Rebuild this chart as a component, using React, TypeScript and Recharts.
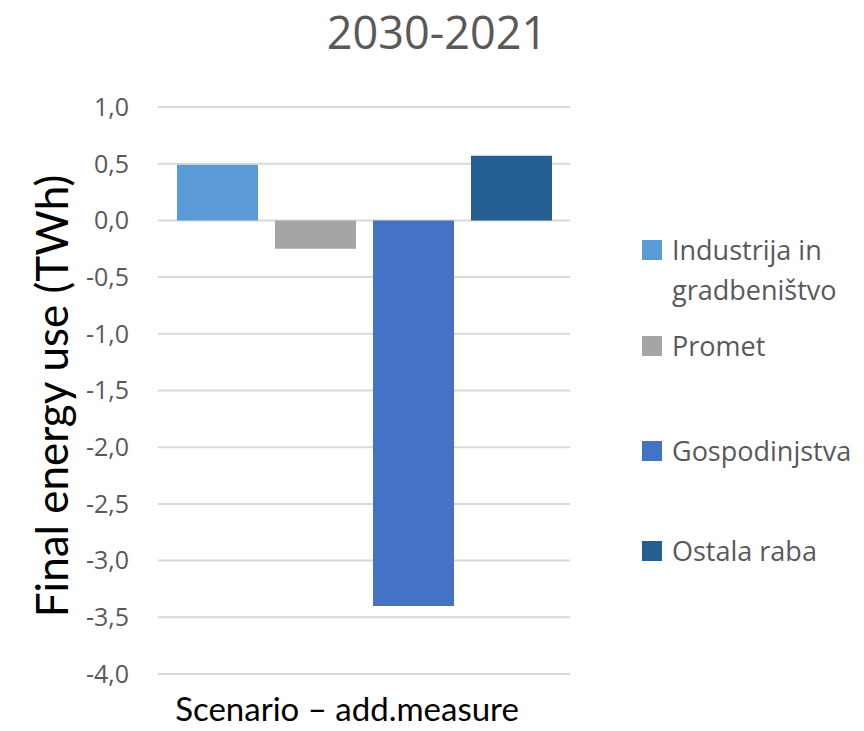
import { BarChart, Bar, XAxis, YAxis, CartesianGrid } from "recharts";

const categories = ["Scenario – add.measure"];
const seriesNames = ["Industrija in gradbeništvo", "Promet", "Gospodinjstva", "Ostala raba"];
const seriesValues = [0.49, -0.25, -3.4, 0.57];
const seriesColors = ["#5b9bd5", "#a5a5a5", "#4472c4", "#255e91"];
const yTicks = [1, 0.5, 0, -0.5, -1, -1.5, -2, -2.5, -3, -3.5, -4];

const title = "2030-2021";
const yLabel = "Final energy use (TWh)";

const data = categories.map((name) => {
    const row: Record<string, string | number> = { name };
    seriesNames.forEach((s, i) => {
        row[s] = seriesValues[i];
    });
    return row;
});

const fmt = (v: number) => v.toFixed(1).replace(".", ",");

// Excel spaces the legend entries a bit unevenly
const legendTops = [0, 96, 201, 301];

const LegendBox = () => (
    <div style={{ position: "absolute", left: 634, top: 222, width: 222, height: 360 }}>
        {seriesNames.map((s, i) => (
            <div key={s} style={{ position: "absolute", top: legendTops[i], left: 0, display: "flex" }}>
                <div style={{ width: 20, height: 20, background: seriesColors[i], marginTop: 10, marginRight: 10, flexShrink: 0 }} />
                <div
                    style={{
                        width: 190,
                        fontFamily: "'Open Sans'",
                        fontSize: 27,
                        lineHeight: "40px",
                        color: "#595959",
                    }}
                >
                    {s}
                </div>
            </div>
        ))}
    </div>
);

export default function App() {
    return (
        <div style={{ position: "relative", width: 856, height: 723, background: "#fff" }}>
            <div
                style={{
                    position: "absolute",
                    left: 279,
                    width: 300,
                    top: 4,
                    textAlign: "center",
                    fontFamily: "'Open Sans'",
                    fontSize: 45,
                    lineHeight: "40px",
                    color: "#595959",
                    whiteSpace: "nowrap",
                }}
            >
                {title}
            </div>
            <div
                style={{
                    position: "absolute",
                    left: 43,
                    top: 388,
                    transform: "translate(-50%, -50%) rotate(-90deg)",
                    whiteSpace: "nowrap",
                    fontFamily: "Lato",
                    fontSize: 44,
                    lineHeight: "48px",
                    color: "#000",
                }}
            >
                {yLabel}
            </div>
            <div
                style={{
                    position: "absolute",
                    left: 139,
                    width: 400,
                    top: 683,
                    textAlign: "center",
                    fontFamily: "Lato",
                    fontSize: 33,
                    lineHeight: "34px",
                    color: "#000",
                    whiteSpace: "nowrap",
                }}
            >
                {categories[0]}
            </div>
            <BarChart
                width={856}
                height={723}
                data={data}
                margin={{ top: 99, right: 294, left: 0, bottom: 57 }}
                barCategoryGap={19}
                barGap={17}
            >
                <CartesianGrid vertical={false} stroke="#d9d9d9" strokeWidth={2} />
                <XAxis dataKey="name" hide />
                <YAxis
                    width={150}
                    domain={[-4, 1]}
                    ticks={yTicks}
                    tickFormatter={fmt}
                    axisLine={false}
                    tickLine={false}
                    tickSize={0}
                    tickMargin={29}
                    tick={{ fill: "#595959", fontFamily: "'Open Sans'", fontSize: 25 }}
                />
                {seriesNames.map((s, i) => (
                    <Bar key={s} dataKey={s} fill={seriesColors[i]} isAnimationActive={false} />
                ))}
            </BarChart>
            <LegendBox />
        </div>
    );
}
